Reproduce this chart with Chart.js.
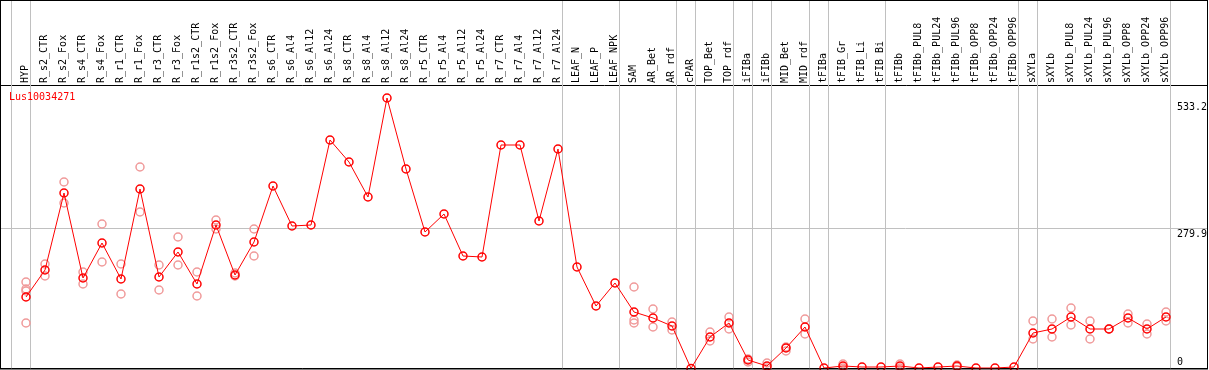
<!DOCTYPE html>
<html>
<head>
<meta charset="utf-8">
<script src="https://cdn.jsdelivr.net/npm/chart.js@4/dist/chart.umd.min.js"></script>
<style>
  body { margin: 0; background: #fff; }
  canvas { display: block; }
</style>
</head>
<body>
<canvas id="chart" width="1209" height="370"></canvas>
<script>
'use strict';

var categories = [
  'HYP', 'R_s2_CTR', 'R_s2_Fox', 'R_s4_CTR', 'R_s4_Fox', 'R_r1_CTR', 'R_r1_Fox',
  'R_r3_CTR', 'R_r3_Fox', 'R_r1s2_CTR', 'R_r1s2_Fox', 'R_r3s2_CTR', 'R_r3s2_Fox',
  'R_s6_CTR', 'R_s6_Al4', 'R_s6_Al12', 'R_s6_Al24', 'R_s8_CTR', 'R_s8_Al4',
  'R_s8_Al12', 'R_s8_Al24', 'R_r5_CTR', 'R_r5_Al4', 'R_r5_Al12', 'R_r5_Al24',
  'R_r7_CTR', 'R_r7_Al4', 'R_r7_Al12', 'R_r7_Al24', 'LEAF_N', 'LEAF_P', 'LEAF_NPK',
  'SAM', 'AR_Bet', 'AR_rdf', 'cPAR', 'TOP_Bet', 'TOP_rdf', 'iFIBa', 'iFIBb',
  'MID_Bet', 'MID_rdf', 'tFIBa', 'tFIB_Gr', 'tFIB_Li', 'tFIB_Bi', 'tFIBb',
  'tFIBb_PUL8', 'tFIBb_PUL24', 'tFIBb_PUL96', 'tFIBb_OPP8', 'tFIBb_OPP24', 'tFIBb_OPP96',
  'sXYLa', 'sXYLb', 'sXYLb_PUL8', 'sXYLb_PUL24', 'sXYLb_PUL96', 'sXYLb_OPP8',
  'sXYLb_OPP24', 'sXYLb_OPP96'
];

// mean expression per sample
var meanValues = [
  143, 197, 351, 181, 251, 179, 359, 183, 233, 169, 287, 187, 253,
  365, 285, 287, 457, 413, 343, 541, 399, 273, 309, 225, 223,
  447, 447, 295, 439, 203, 125, 171,
  113, 101, 85, 0, 63, 91, 17, 5, 41, 83,
  1, 5, 3, 3, 5, 1, 3, 5, 1, 1, 3,
  71, 79, 103, 79, 79, 101, 79, 103
];

// individual replicates (pale circles)
var replicateValues = [
  [173, 159, 155, 91], [209, 185], [373, 331], [193, 169], [289, 213], [209, 149],
  [403, 313], [207, 157], [263, 207], [193, 145], [297, 279], [191, 185], [279, 225],
  [], [], [], [], [], [], [], [], [], [], [], [],
  [], [], [], [], [], [], [],
  [163, 97, 91], [119, 83], [93, 77], [], [73, 55], [103, 79], [19, 13], [11, 1],
  [43, 35], [99, 69],
  [], [9, 1], [], [], [9, 1], [], [], [7, 3], [], [], [],
  [95, 59], [99, 63], [121, 87], [95, 59], [79, 79], [109, 91], [89, 69], [113, 95]
];

// group separators come after these sample indices
var separatorsAfter = [-1, 0, 28, 31, 34, 35, 37, 38, 39, 41, 42, 45, 52, 53, 60];

var yTickValues = [0, 279.9, 533.2];

var FONT = { family: 'DejaVu Sans Mono', size: 10, lineHeight: 1.2 };
var GREY = '#c0c0c0';

var replicatePoints = [];
replicateValues.forEach(function (reps, i) {
  reps.forEach(function (v) {
    replicatePoints.push({ x: i, y: v });
  });
});

var separatorPlugin = {
  id: 'separators',
  beforeDatasetsDraw: function (chart) {
    var c = chart.ctx;
    var xs = chart.scales.x;
    c.save();
    c.strokeStyle = GREY;
    c.lineWidth = 1;
    separatorsAfter.forEach(function (s) {
      var x = Math.round(xs.getPixelForValue(s + 4 / 19)) + 0.5;
      c.beginPath();
      c.moveTo(x, 0);
      c.lineTo(x, chart.chartArea.bottom);
      c.stroke();
    });
    c.restore();
  }
};

var framePlugin = {
  id: 'frame',
  afterDraw: function (chart) {
    var c = chart.ctx;
    var a = chart.chartArea;
    c.save();
    c.strokeStyle = '#000';
    c.lineWidth = 1;
    c.strokeRect(0.5, 0.5, Math.round(a.right), Math.round(a.bottom) - 0.5);
    // gene name
    c.fillStyle = '#ff0000';
    c.font = '10px "DejaVu Sans Mono"';
    c.textBaseline = 'middle';
    c.fillText('Lus10034271', 9, 97);
    c.restore();
  }
};

var ctx = document.getElementById('chart').getContext('2d');
var myChart = new Chart(ctx, {
  type: 'line',
  plugins: [separatorPlugin, framePlugin],
  data: {
    datasets: [
      {
        label: 'mean',
        data: meanValues.map(function (v, i) { return { x: i, y: v }; }),
        borderColor: '#ff0000',
        borderWidth: 1,
        pointRadius: 4,
        pointBorderWidth: 1.5,
        pointBorderColor: '#ff0000',
        pointBackgroundColor: 'transparent',
        tension: 0,
        order: 0,
        clip: false,
      },
      {
        label: 'replicates',
        data: replicatePoints,
        showLine: false,
        pointRadius: 4,
        pointBorderWidth: 1.5,
        pointBorderColor: '#f09a9a',
        pointBackgroundColor: 'transparent',
        order: 1,
        clip: false,
      },
    ],
  },
  options: {
    responsive: false,
    animation: false,
    layout: {
      autoPadding: false,
      padding: { left: 1, right: 2, top: 0, bottom: 1.5 },
    },
    plugins: {
      legend: { display: false },
      tooltip: { enabled: false },
    },
    scales: {
      x: {
        type: 'linear',
        position: 'top',
        min: (1 - 26) / 19,
        max: (1207 - 26) / 19,
        afterBuildTicks: function (scale) {
          scale.ticks = categories.map(function (c, i) { return { value: i }; });
        },
        afterFit: function (scale) {
          scale.height = 85;
          scale.paddingLeft = 0;
          scale.paddingRight = 0;
        },
        ticks: {
          autoSkip: false,
          minRotation: 90,
          maxRotation: 90,
          padding: 2,
          labelOffset: 11.5,
          color: '#000',
          font: FONT,
          callback: function (v) { return categories[v]; },
        },
        grid: { display: false, drawTicks: false },
        border: { display: true, color: '#000', width: 1 },
      },
      y: {
        type: 'linear',
        position: 'right',
        min: 0,
        max: (368.5 - 85) * 2,
        afterBuildTicks: function (scale) {
          scale.ticks = yTickValues.map(function (v) { return { value: v }; });
        },
        afterFit: function (scale) {
          scale.width = 0;
          scale.paddingTop = 0;
          scale.paddingBottom = 0;
        },
        ticks: {
          mirror: true,
          crossAlign: 'far',
          padding: 0,
          color: '#000',
          font: FONT,
          callback: function (v) {
            return v === 0 ? ['0', ''] : ['', v.toFixed(1)];
          },
        },
        grid: {
          drawTicks: false,
          color: function (c) {
            if (!c.tick) return 'transparent';
            if (c.tick.value === 0) return '#000';
            if (c.tick.value === 279.9) return GREY;
            return 'transparent';
          },
        },
        border: { display: false },
      },
    },
  },
});
</script>
</body>
</html>
